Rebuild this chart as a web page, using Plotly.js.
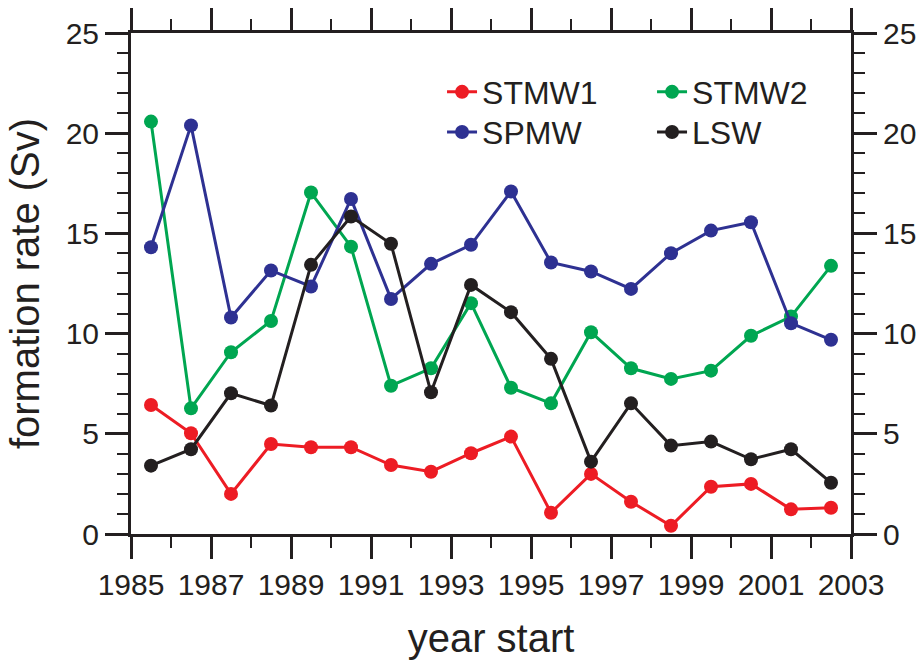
<!DOCTYPE html>
<html>
<head>
<meta charset="utf-8">
<script src="https://cdn.plot.ly/plotly-3.0.1.min.js"></script>
<style>
  html, body { margin: 0; padding: 0; background: #fff; }
  #chart { width: 917px; height: 663px; }
</style>
</head>
<body>
<div id="chart"></div>
<script>
// Data (formation rate in Sv), plotted at year start + 0.5
const years = [1985.5, 1986.5, 1987.5, 1988.5, 1989.5, 1990.5, 1991.5, 1992.5, 1993.5,
               1994.5, 1995.5, 1996.5, 1997.5, 1998.5, 1999.5, 2000.5, 2001.5, 2002.5];
const stmw1 = [6.44, 5.03, 2.00, 4.49, 4.33, 4.33, 3.44, 3.11, 4.03,
               4.86, 1.06, 3.00, 1.61, 0.41, 2.36, 2.50, 1.23, 1.31];
const stmw2 = [20.58, 6.27, 9.07, 10.63, 17.04, 14.34, 7.40, 8.27, 11.52,
               7.30, 6.52, 10.07, 8.27, 7.74, 8.15, 9.89, 10.85, 13.38];
const spmw  = [14.31, 20.39, 10.80, 13.15, 12.35, 16.72, 11.73, 13.48, 14.43,
               17.09, 13.55, 13.10, 12.23, 14.01, 15.14, 15.56, 10.52, 9.69];
const lsw   = [3.41, 4.23, 7.02, 6.41, 13.43, 15.84, 14.48, 7.07, 12.43,
               11.07, 8.74, 3.61, 6.52, 4.41, 4.61, 3.73, 4.23, 2.56];

const seriesNames = ['STMW1', 'STMW2', 'SPMW', 'LSW'];
const seriesColors = ['#ED1C24', '#00A651', '#2E3192', '#231F20'];
const seriesValues = [stmw1, stmw2, spmw, lsw];
const seriesLegend = ['legend', 'legend', 'legend2', 'legend2'];

const xTitle = 'year start';
const yTitle = 'formation rate (Sv)';

const textColor = '#231F20';
const fontFamily = 'Liberation Sans, Arial, sans-serif';

const traces = seriesNames.map((name, i) => ({
  x: years,
  y: seriesValues[i],
  name: name,
  type: 'scatter',
  mode: 'lines+markers',
  line: { color: seriesColors[i], width: 3 },
  marker: { color: seriesColors[i], size: 14 },
  legend: seriesLegend[i],
  xaxis: 'x',
  yaxis: 'y'
}));

// empty trace to anchor the right-hand mirrored axis
traces.push({ x: [], y: [], xaxis: 'x', yaxis: 'y2', showlegend: false, hoverinfo: 'skip' });

const tickFont = { family: fontFamily, size: 30, color: textColor };

const yBase = {
  range: [0, 25],
  tick0: 0,
  dtick: 5,
  ticks: 'outside',
  ticklen: 23,
  tickwidth: 3,
  tickcolor: textColor,
  showline: true,
  linewidth: 3,
  linecolor: textColor,
  showgrid: false,
  zeroline: false,
  automargin: false,
  tickfont: tickFont,
  minor: { dtick: 1, ticks: 'outside', ticklen: 11, tickwidth: 2, tickcolor: textColor, showgrid: false },
  fixedrange: true
};

const legendBase = {
  orientation: 'h',
  x: 0.432,
  xanchor: 'left',
  yanchor: 'top',
  entrywidth: 165,
  entrywidthmode: 'pixels',
  font: { family: fontFamily, size: 32, color: textColor },
  bgcolor: 'rgba(0,0,0,0)',
  tracegroupgap: 0
};

const layout = {
  width: 917,
  height: 663,
  margin: { l: 131, r: 66, t: 33, b: 129, pad: 0, autoexpand: false },
  paper_bgcolor: '#ffffff',
  plot_bgcolor: '#ffffff',
  font: { family: fontFamily, color: textColor },
  showlegend: true,
  legend: Object.assign({}, legendBase, { y: 0.937 }),
  legend2: Object.assign({}, legendBase, { y: 0.857 }),
  xaxis: {
    range: [1985, 2003],
    tick0: 1985,
    dtick: 2,
    ticks: 'outside',
    ticklen: 22,
    tickwidth: 3,
    tickcolor: textColor,
    showline: true,
    linewidth: 3,
    linecolor: textColor,
    mirror: 'ticks',
    showgrid: false,
    zeroline: false,
    automargin: false,
    tickfont: tickFont,
    minor: { dtick: 1, ticks: 'outside', ticklen: 11, tickwidth: 2, tickcolor: textColor, showgrid: false },
    title: { text: xTitle, font: { family: fontFamily, size: 40, color: textColor }, standoff: 24 },
    fixedrange: true
  },
  yaxis: Object.assign({}, yBase, {
    side: 'left',
    title: { text: yTitle, font: { family: fontFamily, size: 40, color: textColor }, standoff: 14 }
  }),
  yaxis2: Object.assign({}, yBase, {
    side: 'right',
    overlaying: 'y',
    anchor: 'x'
  })
};

Plotly.newPlot('chart', traces, layout, { displayModeBar: false, staticPlot: true });
</script>
</body>
</html>
